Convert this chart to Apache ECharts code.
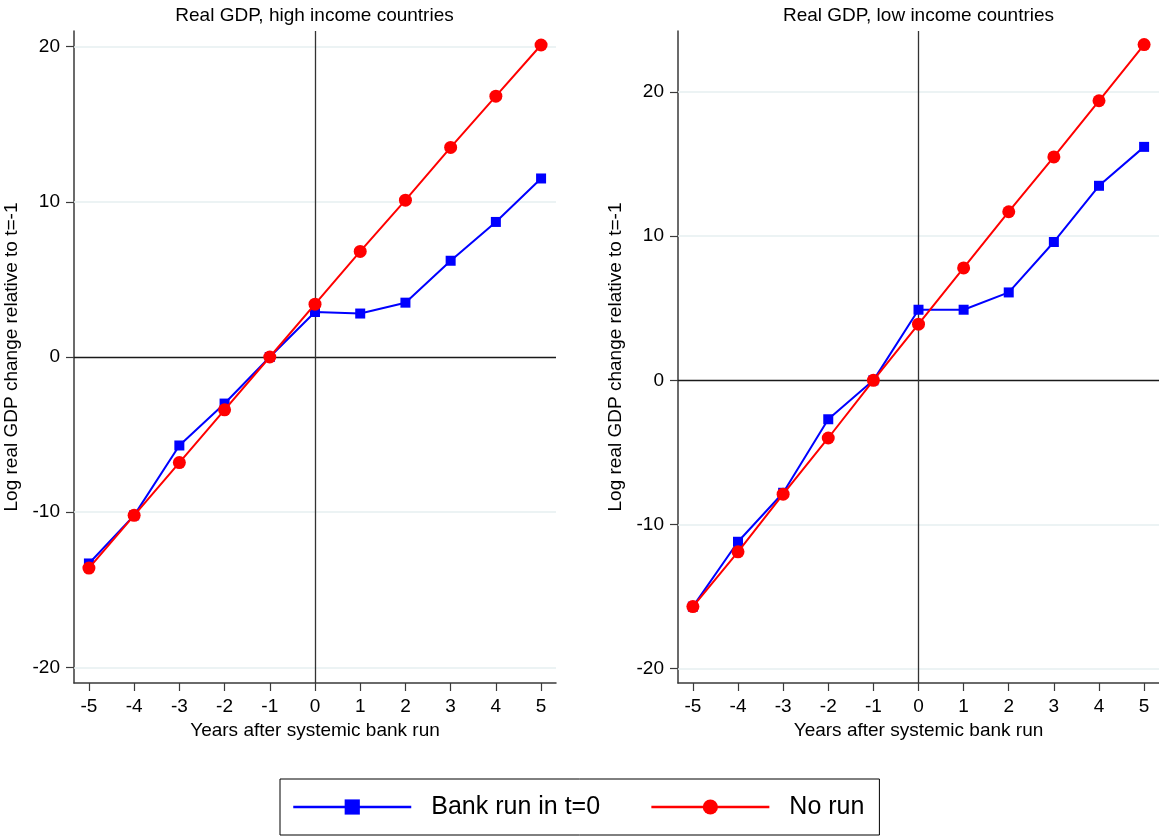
<!DOCTYPE html>
<html>
<head>
<meta charset="utf-8">
<script src="https://cdn.jsdelivr.net/npm/echarts@6/dist/echarts.min.js"></script>
<style>
html,body{margin:0;padding:0;background:#fff;}
#chart{width:1159px;height:836px;}
</style>
</head>
<body>
<div id="chart"></div>
<script>
// ---- data ----
const years = [-5, -4, -3, -2, -1, 0, 1, 2, 3, 4, 5];
const highBankRun = [-13.3, -10.2, -5.7, -3.0, 0, 2.9, 2.8, 3.5, 6.2, 8.7, 11.5];
const highNoRun   = [-13.6, -10.2, -6.8, -3.4, 0, 3.4, 6.8, 10.1, 13.5, 16.8, 20.1];
const lowBankRun  = [-15.7, -11.2, -7.8, -2.7, 0, 4.9, 4.9, 6.1, 9.6, 13.5, 16.2];
const lowNoRun    = [-15.7, -11.9, -7.9, -4.0, 0, 3.9, 7.8, 11.7, 15.5, 19.4, 23.3];
const xTicks = [-5, -4, -3, -2, -1, 0, 1, 2, 3, 4, 5];
const yTicks = [-20, -10, 0, 10, 20];
const gridValues = [-20, -10, 10, 20];
const panelTitles = ['Real GDP, high income countries', 'Real GDP, low income countries'];
const seriesNames = ['Bank run in t=0', 'No run'];
const xName = 'Years after systemic bank run';
const yName = 'Log real GDP change relative to t=-1';

const FONT = "'Liberation Sans', Arial, sans-serif";
const pairs = (xs, ys) => xs.map((x, i) => [x, ys[i]]);

const chart = echarts.init(document.getElementById('chart'), null, {renderer: 'canvas'});

function xAxisDef(gi) {
  return {
    type: 'value', gridIndex: gi, min: -5.33, max: 5.33,
    name: xName, nameLocation: 'middle', nameGap: 33,
    nameTextStyle: {fontSize: 19, color: '#000', fontFamily: FONT},
    axisLine: {show: true, onZero: false, lineStyle: {color: '#3a3a3a', width: 1.5}},
    axisTick: {show: true, length: 8, customValues: xTicks, lineStyle: {color: '#3a3a3a', width: 1.2}},
    axisLabel: {customValues: xTicks, margin: 14, fontSize: 19, color: '#000', fontFamily: FONT},
    splitLine: {show: false}
  };
}
function yAxisDef(gi, mn, mx) {
  return {
    type: 'value', gridIndex: gi, min: mn, max: mx,
    name: yName, nameLocation: 'middle', nameGap: 53,
    nameTextStyle: {fontSize: 19, color: '#000', fontFamily: FONT},
    axisLine: {show: true, onZero: false, lineStyle: {color: '#3a3a3a', width: 1.5}},
    axisTick: {show: true, length: 8, customValues: yTicks, lineStyle: {color: '#3a3a3a', width: 1.2}},
    axisLabel: {customValues: yTicks, margin: 14, fontSize: 19, color: '#000', fontFamily: FONT},
    splitLine: {show: false}
  };
}
function refSeries(gi) {
  const gl = gridValues.map(v => ({yAxis: v, lineStyle: {color: '#e6eff1', width: 1.5}}));
  return {
    type: 'line', xAxisIndex: gi, yAxisIndex: gi, data: [], z: 1, silent: true,
    markLine: {
      z: 1, silent: true, symbol: ['none', 'none'], animation: false,
      label: {show: false}, emphasis: {disabled: true},
      lineStyle: {type: 'solid'},
      data: gl.concat([
        {yAxis: 0, lineStyle: {color: '#1a1a1a', width: 1.3}},
        {xAxis: 0, lineStyle: {color: '#333', width: 1.3}}
      ])
    }
  };
}
function bankSeries(gi, vals) {
  return {
    name: seriesNames[0], type: 'line', xAxisIndex: gi, yAxisIndex: gi, z: 3,
    data: pairs(years, vals), symbol: 'rect', symbolSize: 10,
    itemStyle: {color: '#0000ff'}, lineStyle: {color: '#0000ff', width: 2},
    emphasis: {disabled: true}
  };
}
function noRunSeries(gi, vals) {
  return {
    name: seriesNames[1], type: 'line', xAxisIndex: gi, yAxisIndex: gi, z: 4,
    data: pairs(years, vals), symbol: 'circle', symbolSize: 13,
    itemStyle: {color: '#ff0000'}, lineStyle: {color: '#ff0000', width: 2},
    emphasis: {disabled: true}
  };
}

chart.setOption({
  animation: false,
  backgroundColor: '#fff',
  textStyle: {fontFamily: FONT},
  title: [
    {text: panelTitles[0], left: 314.5, top: 6, padding: 0, textAlign: 'center',
     textStyle: {fontSize: 19, fontWeight: 'normal', color: '#000', fontFamily: FONT}},
    {text: panelTitles[1], left: 918.5, top: 6, padding: 0, textAlign: 'center',
     textStyle: {fontSize: 19, fontWeight: 'normal', color: '#000', fontFamily: FONT}}
  ],
  grid: [
    {left: 74, top: 31, width: 482, height: 652, containLabel: false},
    {left: 678, top: 31, width: 482, height: 652, containLabel: false}
  ],
  xAxis: [xAxisDef(0), xAxisDef(1)],
  yAxis: [yAxisDef(0, -21, 21), yAxisDef(1, -21, 24.24)],
  legend: {
    data: seriesNames,
    left: 280, top: 779,
    orient: 'horizontal',
    itemWidth: 118, itemHeight: 19, itemGap: 50,
    padding: [15, 15, 15, 12],
    borderColor: '#000', borderWidth: 1,
    lineStyle: {width: 2.5},
    textStyle: {fontSize: 25, color: '#000', fontFamily: FONT, padding: [0, 0, 0, 15], lineHeight: 26},
    selectedMode: false
  },
  series: [
    refSeries(0), refSeries(1),
    bankSeries(0, highBankRun), noRunSeries(0, highNoRun),
    bankSeries(1, lowBankRun), noRunSeries(1, lowNoRun)
  ]
});
</script>
</body>
</html>
